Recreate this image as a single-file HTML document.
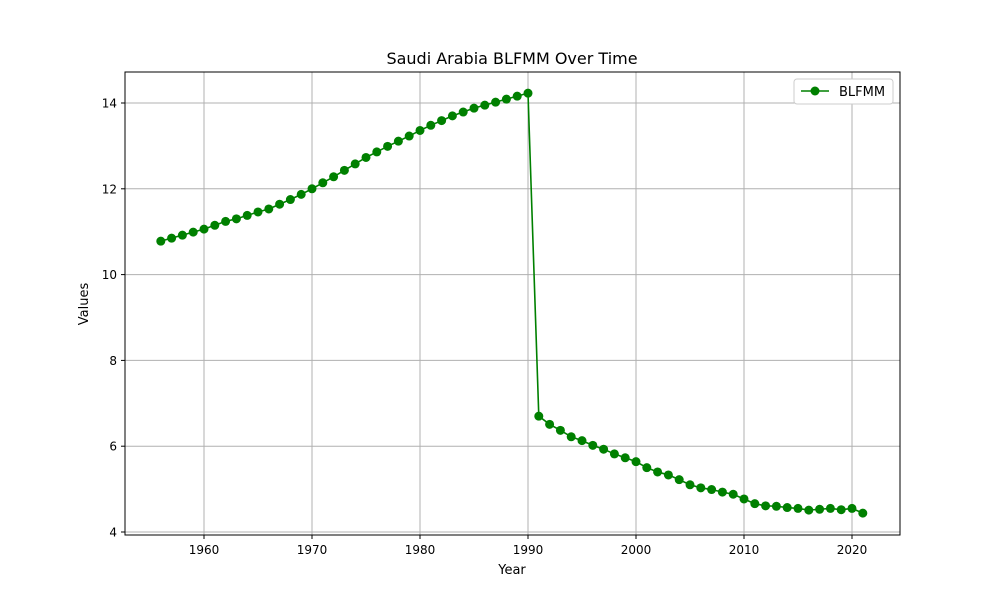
<!DOCTYPE html>
<html><head><meta charset="utf-8"><style>
body{margin:0;background:#fff;font-family:"Liberation Sans","DejaVu Sans",sans-serif;}
svg text{font-family:"DejaVu Sans","Liberation Sans",sans-serif;}
</style></head><body>
<svg id="chart" width="1000" height="600">
<rect width="1000" height="600" fill="#fff"/>
<g id="grid"></g>
<g id="series"></g>
<rect x="125" y="72" width="775" height="463" fill="none" stroke="#000" stroke-width="1"/>
<g id="axes"></g>
<text x="512" y="64" text-anchor="middle" font-size="16">Saudi Arabia BLFMM Over Time</text>
<text x="512" y="574" text-anchor="middle" font-size="13">Year</text>
<text x="88" y="304" text-anchor="middle" font-size="13" transform="rotate(-90 88 304)">Values</text>
<g>
<rect x="794" y="79" width="99" height="25" rx="3" fill="#fff" stroke="#ccc"/>
<line x1="801" y1="91" x2="829" y2="91" stroke="green" stroke-width="1.6"/>
<circle cx="815" cy="91" r="4.5" fill="green"/>
<text x="839" y="96" font-size="13">BLFMM</text>
</g>
</svg>
<script>
const years=[];for(let y=1956;y<=2021;y++)years.push(y);
const values=[10.78,10.85,10.92,10.99,11.06,11.15,11.24,11.30,11.38,11.46,11.53,11.64,11.75,11.87,12.00,12.14,12.28,12.43,12.58,12.73,12.86,12.99,13.11,13.23,13.36,13.48,13.59,13.70,13.79,13.88,13.95,14.02,14.09,14.16,14.23,6.70,6.51,6.37,6.22,6.13,6.02,5.93,5.82,5.73,5.64,5.50,5.40,5.33,5.22,5.10,5.03,4.99,4.93,4.88,4.77,4.66,4.61,4.60,4.57,4.55,4.51,4.53,4.55,4.52,4.55,4.44];
const xTicks=[1960,1970,1980,2000,1990,2010,2020];
const yTicks=[4,6,8,10,12,14];
const NS="http://www.w3.org/2000/svg";
const xS=v=>204+(v-1960)*(852-204)/60;
const yS=v=>532-(v-4)*(532-103)/10;
function mk(tag,attrs,parent){const e=document.createElementNS(NS,tag);for(const k in attrs)e.setAttribute(k,attrs[k]);parent.appendChild(e);return e;}
const grid=document.getElementById('grid'),axes=document.getElementById('axes'),ser=document.getElementById('series');
xTicks.forEach(t=>{const x=xS(t);
 const g=mk('line',{x1:x,x2:x,y1:72,y2:535,stroke:'#b0b0b0','stroke-width':1},grid);
 
 
 mk('line',{x1:x,x2:x,y1:535,y2:539,stroke:'#000'},axes);
 const tx=mk('text',{x:x,y:554,'text-anchor':'middle','font-size':12},axes);tx.textContent=t;
 
 
});
yTicks.forEach(t=>{const y=yS(t);
 const g=mk('line',{x1:125,x2:900,y1:y,y2:y,stroke:'#b0b0b0','stroke-width':1},grid);
 
 
 mk('line',{x1:121,x2:125,y1:y,y2:y,stroke:'#000'},axes);
 const tx=mk('text',{x:117,y:y+4.5,'text-anchor':'end','font-size':12},axes);tx.textContent=t;
 
 
});
const pts=years.map((y,i)=>xS(y)+','+yS(values[i])).join(' ');
const pl=mk('polyline',{points:pts,fill:'none',stroke:'green','stroke-width':1.6},ser);


years.forEach((y,i)=>{const c=mk('circle',{cx:xS(y),cy:yS(values[i]),r:4.5,fill:'green'},ser);
 
 
});
</script>
</body></html>
